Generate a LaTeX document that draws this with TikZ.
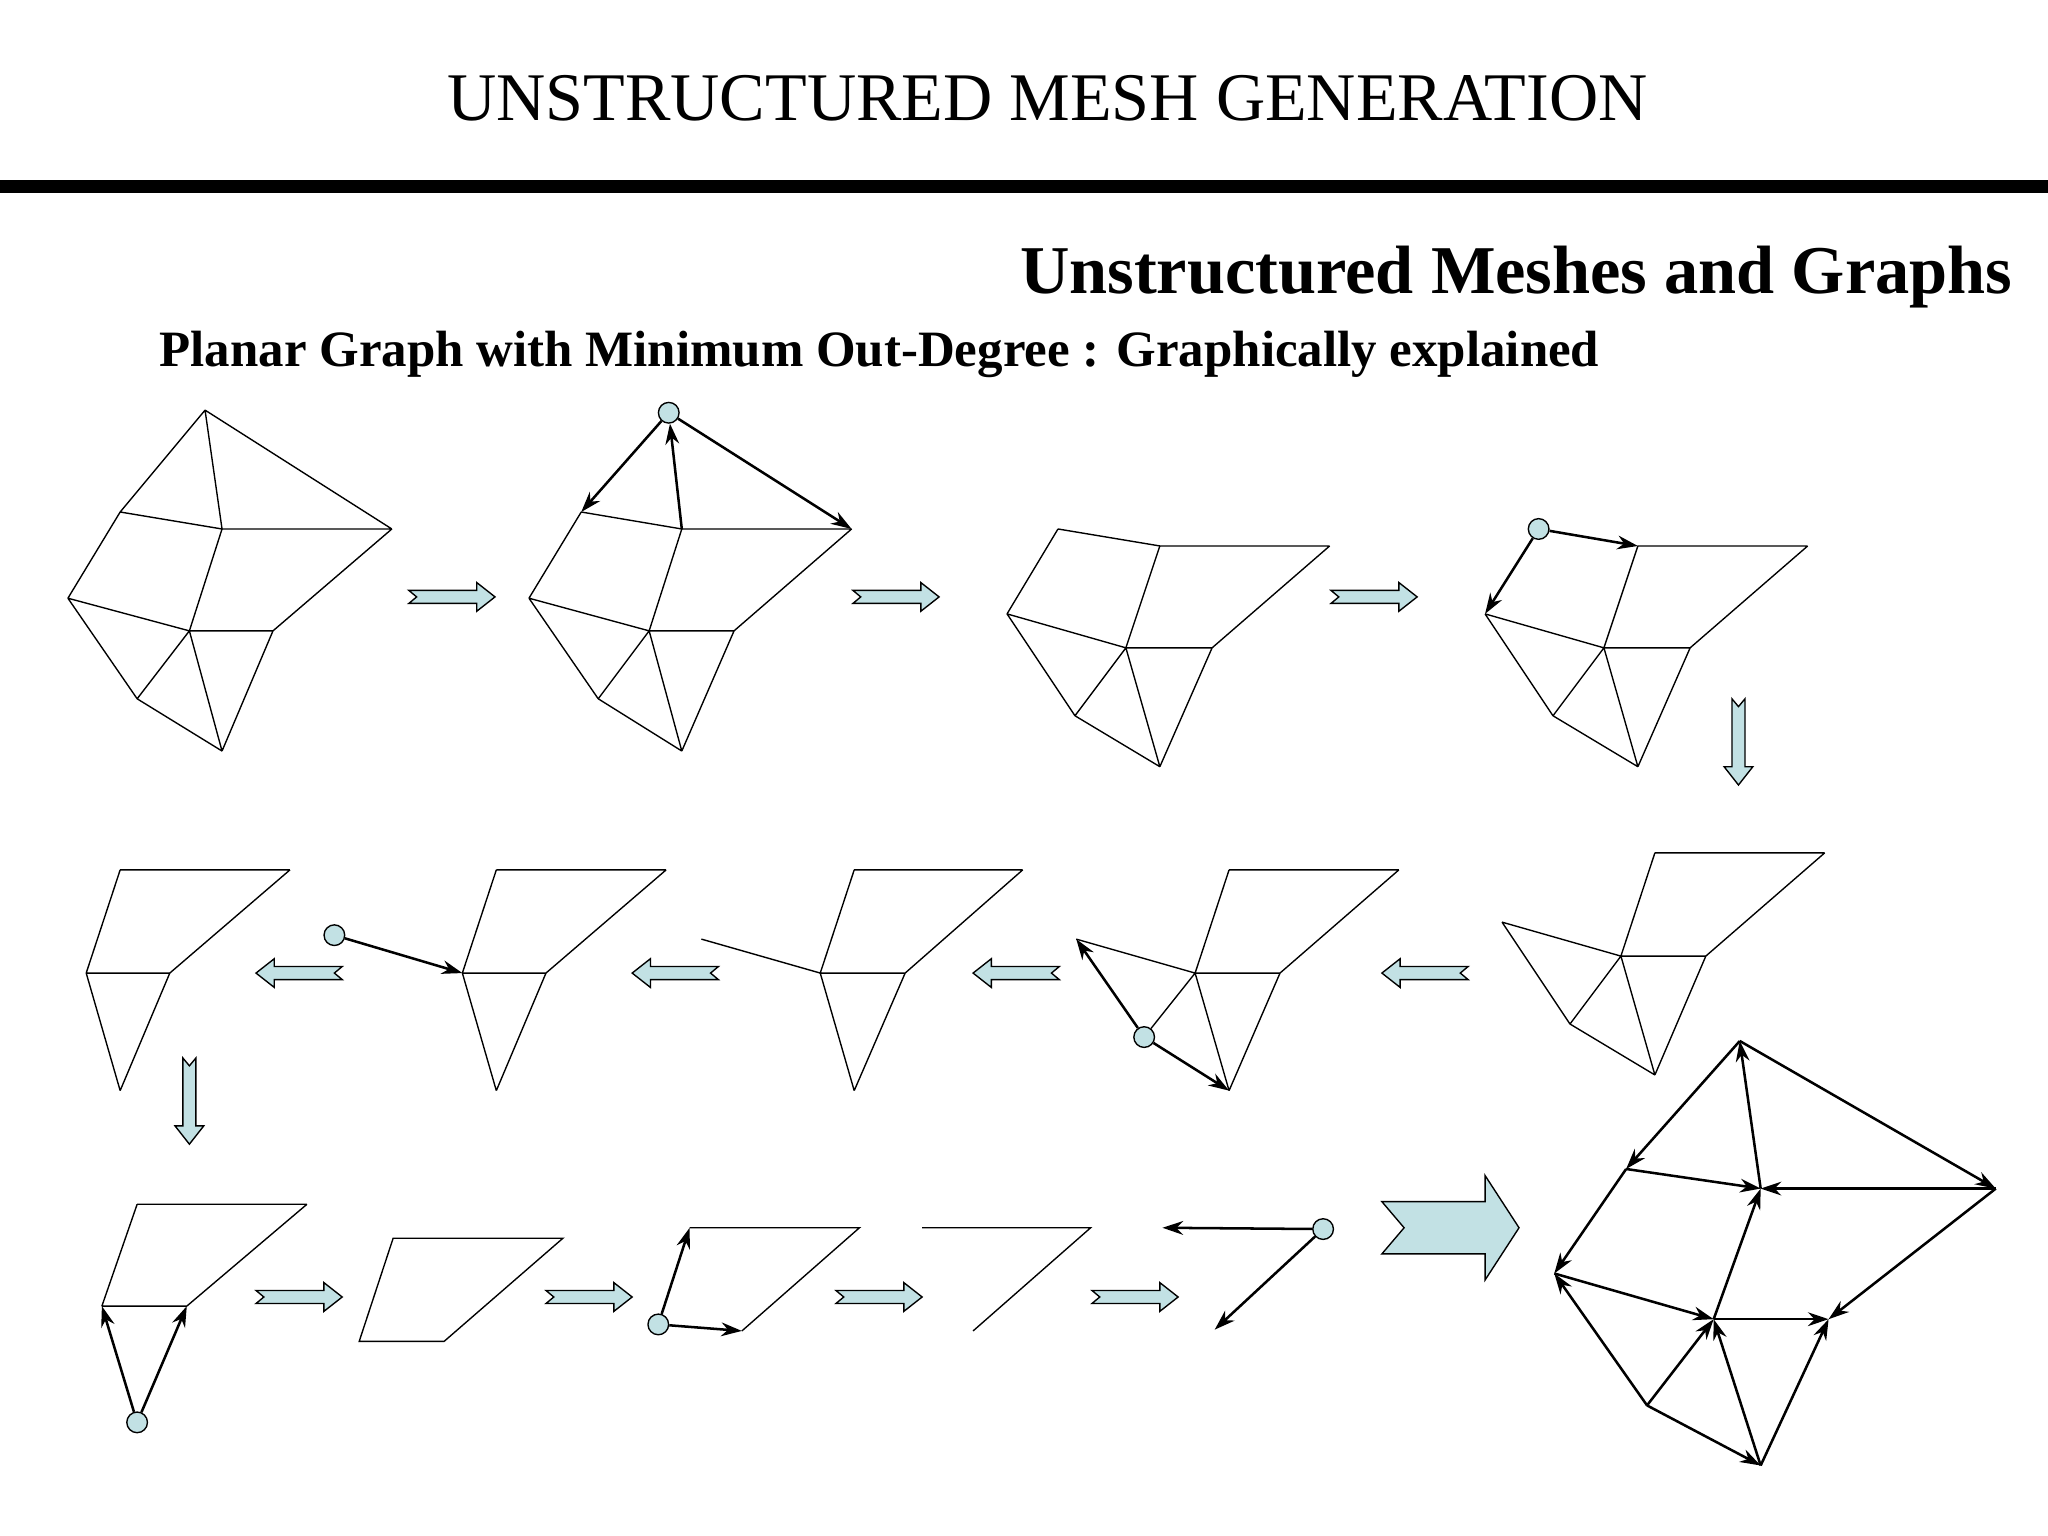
\documentclass[tikz,border=0pt]{standalone}
\usepackage{fontspec}
\setmainfont{Liberation Serif}
\usetikzlibrary{arrows.meta}
\definecolor{lb}{HTML}{C2E1E4}
\tikzset{
 ed/.style={line width=0.6pt},
 ar/.style={line width=1.1pt,-{Stealth[length=9pt,width=6pt]}},
 vtx/.style={circle,draw,fill=lb,minimum size=9pt,inner sep=0pt,line width=0.6pt},
 fat/.style={draw,fill=lb,line width=0.6pt},
}
\newcommand{\fatarrow}[4]{% x y angle scale
 \draw[fat,shift={(#1,#2)},rotate=#3,scale=#4] (-33,-5)--(19,-5)--(19,-11)--(33,0)--(19,11)--(19,5)--(-33,5)--(-27,0)--cycle;}
\begin{document}
\begin{tikzpicture}[x=0.02cm,y=-0.02cm]
\useasboundingbox (0,0) rectangle (1568,1176);
\node (title) at (802,75) {\fontsize{29.7}{33}\selectfont UNSTRUCTURED MESH GENERATION};
\fill (0,138) rectangle (1568,148);
\node[anchor=east] (sub) at (1547,212) {\fontsize{29.8}{33}\selectfont\bfseries Unstructured Meshes and Graphs};
\node[anchor=west] (sub2) at (116,271) {\fontsize{22.2}{24}\selectfont\bfseries Planar Graph with Minimum Out-Degree : Graphically explained};
% mesh 1
\foreach \n/\x/\y in {A/157/314,B/300/405,C/170/405,D/92/392,E/52/458,F/145/483,G/209/483,H/105/535,I/170/575}{\coordinate (a\n) at (\x,\y);}
\draw[ed] (aA)--(aB) (aA)--(aD) (aA)--(aC) (aC)--(aB) (aD)--(aC) (aD)--(aE) (aC)--(aF) (aE)--(aF) (aE)--(aH) (aH)--(aI) (aF)--(aH) (aF)--(aI) (aG)--(aI) (aF)--(aG) (aG)--(aB);
% mesh 2
\foreach \n/\x/\y in {B/652/405,C/522/405,D/445/392,E/405/458,F/497/483,G/562/483,H/458/535,I/522/575}{\coordinate (b\n) at (\x,\y);}
\node[vtx] (bA) at (512,316) {};
\draw[ed] (bC)--(bB) (bD)--(bC) (bD)--(bE) (bC)--(bF) (bE)--(bF) (bE)--(bH) (bH)--(bI) (bF)--(bH) (bF)--(bI) (bG)--(bI) (bF)--(bG) (bG)--(bB);
\draw[ar] (bA)--(bD); \draw[ar] (bA)--(bB); \draw[ar] (bC)--(bA);
% mesh 3
\foreach \n/\x/\y in {D/810/405,C/888/418,B/1018/418,E/771/470,F/862/496,G/928/496,H/823/548,I/888/587}{\coordinate (c\n) at (\x,\y);}
\draw[ed] (cD)--(cC) (cC)--(cB) (cD)--(cE) (cC)--(cF) (cE)--(cF) (cB)--(cG) (cF)--(cG) (cE)--(cH) (cF)--(cH) (cF)--(cI) (cH)--(cI) (cG)--(cI);
% mesh 4
\foreach \n/\x/\y in {C/1254/418,B/1384/418,E/1137/470,F/1228/496,G/1294/496,H/1189/548,I/1254/587}{\coordinate (d\n) at (\x,\y);}
\node[vtx] (dD) at (1178,405) {};
\draw[ed] (dC)--(dB) (dC)--(dF) (dE)--(dF) (dB)--(dG) (dF)--(dG) (dE)--(dH) (dF)--(dH) (dF)--(dI) (dH)--(dI) (dG)--(dI);
\draw[ar] (dD)--(dC); \draw[ar] (dD)--(dE);
% mesh 5
\foreach \n/\x/\y in {C/1267/653,B/1397/653,E/1150/706,F/1241/732,G/1306/732,H/1202/784,I/1267/823}{\coordinate (e\n) at (\x,\y);}
\draw[ed] (eC)--(eB) (eC)--(eF) (eE)--(eF) (eB)--(eG) (eF)--(eG) (eE)--(eH) (eF)--(eH) (eF)--(eI) (eH)--(eI) (eG)--(eI);
% mesh 6
\foreach \n/\x/\y in {C/941/666,B/1071/666,E/824/719,F/915/745,G/980/745,I/941/835}{\coordinate (f\n) at (\x,\y);}
\node[vtx] (fH) at (876,794) {};
\draw[ed] (fC)--(fB) (fC)--(fF) (fE)--(fF) (fB)--(fG) (fF)--(fG) (fF)--(fI) (fG)--(fI) (fF)--(fH);
\draw[ar] (fH)--(fE); \draw[ar] (fH)--(fI);
% mesh 7
\foreach \n/\x/\y in {C/654/666,B/783/666,E/537/719,F/628/745,G/693/745,I/654/835}{\coordinate (g\n) at (\x,\y);}
\draw[ed] (gC)--(gB) (gC)--(gF) (gE)--(gF) (gB)--(gG) (gF)--(gG) (gF)--(gI) (gG)--(gI);
% mesh 8
\foreach \n/\x/\y in {C/380/666,B/510/666,F/354/745,G/418/745,I/380/835}{\coordinate (h\n) at (\x,\y);}
\node[vtx] (hE) at (256,716) {};
\draw[ed] (hC)--(hB) (hC)--(hF) (hB)--(hG) (hF)--(hG) (hF)--(hI) (hG)--(hI);
\draw[ar] (hE)--(hF);
% mesh 9
\foreach \n/\x/\y in {C/92/666,B/222/666,F/66/745,G/130/745,I/92/835}{\coordinate (i\n) at (\x,\y);}
\draw[ed] (iC)--(iB) (iC)--(iF) (iB)--(iG) (iF)--(iG) (iF)--(iI) (iG)--(iI);
% mesh 10
\foreach \n/\x/\y in {C/105/922,B/235/922,F/78/1000,G/143/1000}{\coordinate (j\n) at (\x,\y);}
\node[vtx] (jI) at (105,1089) {};
\draw[ed] (jC)--(jB) (jC)--(jF) (jB)--(jG) (jF)--(jG);
\draw[ar] (jI)--(jF); \draw[ar] (jI)--(jG);
% mesh 11
\foreach \n/\x/\y in {C/301/948,B/431/948,G/340/1027,F/275/1027}{\coordinate (k\n) at (\x,\y);}
\draw[ed] (kC)--(kB)--(kG)--(kF)--cycle;
% mesh 12
\foreach \n/\x/\y in {C/528/940,B/658/940,G/568/1019}{\coordinate (l\n) at (\x,\y);}
\node[vtx] (lF) at (504,1014) {};
\draw[ed] (lC)--(lB)--(lG);
\draw[ar] (lF)--(lC); \draw[ar] (lF)--(lG);
% mesh 13
\foreach \n/\x/\y in {C/706/940,B/835/940,G/745/1019}{\coordinate (m\n) at (\x,\y);}
\draw[ed] (mC)--(mB)--(mG);
% mesh 14
\coordinate (nC) at (890,940); \coordinate (nG) at (930,1018);
\node[vtx] (nB) at (1013,941) {};
\draw[ar] (nB)--(nC); \draw[ar] (nB)--(nG);
% final
\foreach \n/\x/\y in {A/1332/797,B/1528/910,C/1348/910,D/1245/895,E/1190/975,F/1312/1010,G/1400/1010,H/1261/1076,I/1348/1122}{\coordinate (z\n) at (\x,\y);}
\foreach \s/\t in {A/D,A/B,C/A,D/C,D/E,H/E,H/I,H/F,E/F,I/F,I/G,F/C,F/G,B/C,B/G}{\draw[ar] (z\s)--(z\t);}
% fat arrows
\fatarrow{346}{457}{0}{1}
\fatarrow{686}{457}{0}{1}
\fatarrow{1052}{457}{0}{1}
\fatarrow{1331}{568}{-90}{1}
\fatarrow{1091}{745}{180}{1}
\fatarrow{778}{745}{180}{1}
\fatarrow{517}{745}{180}{1}
\fatarrow{229}{745}{180}{1}
\fatarrow{145}{843}{-90}{1}
\fatarrow{229}{993}{0}{1}
\fatarrow{451}{993}{0}{1}
\fatarrow{673}{993}{0}{1}
\fatarrow{869}{993}{0}{1}
\draw[fat] (1058,920)--(1137,920)--(1137,900)--(1163,940)--(1137,980)--(1137,960)--(1058,960)--(1075,940)--cycle;
\end{tikzpicture}
\end{document}
